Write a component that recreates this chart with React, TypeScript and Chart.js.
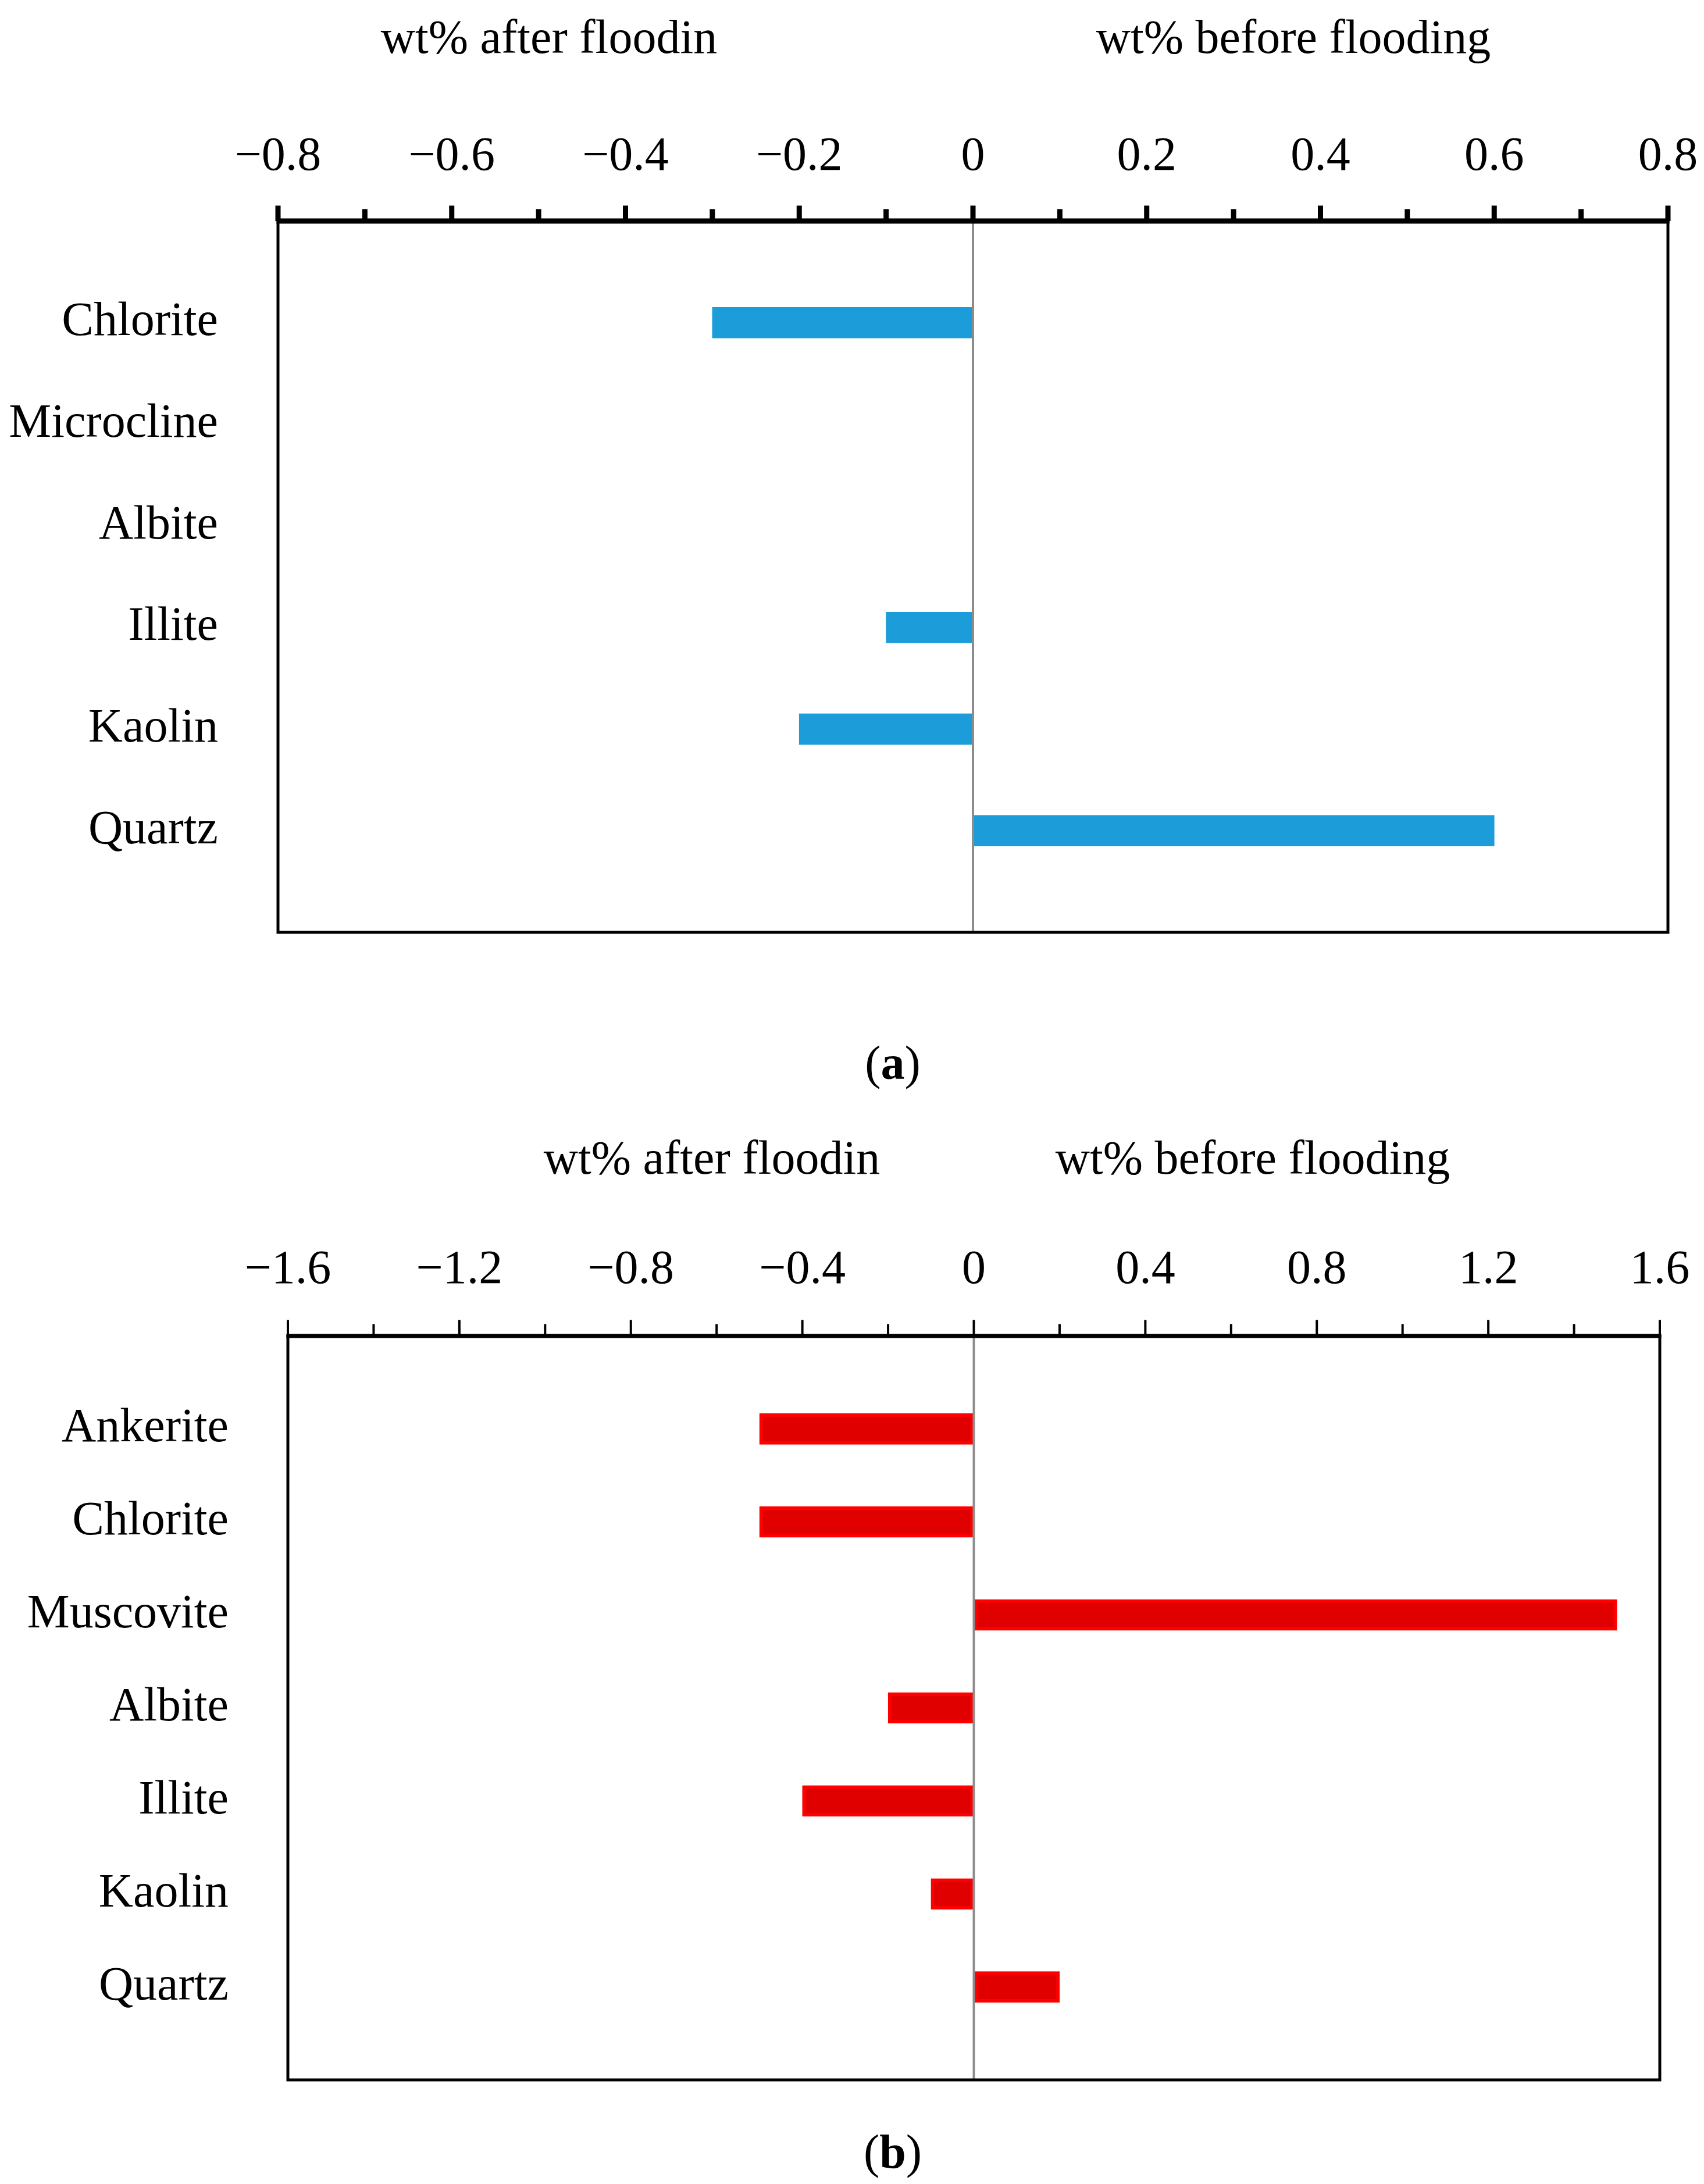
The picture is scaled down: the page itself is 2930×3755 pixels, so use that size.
import React, { useEffect, useRef } from "react";
import { Chart, registerables } from "chart.js";

Chart.register(...registerables);

// ---------- data ----------
const titleLeft = "wt% after floodin";
const titleRight = "wt% before flooding";

const categoriesA = ["Chlorite", "Microcline", "Albite", "Illite", "Kaolin", "Quartz"];
const valuesA = [-0.3, 0, 0, -0.1, -0.2, 0.6];
const axisA = { min: -0.8, max: 0.8, step: 0.1, major: 0.2 };

const categoriesB = ["Ankerite", "Chlorite", "Muscovite", "Albite", "Illite", "Kaolin", "Quartz"];
const valuesB = [-0.5, -0.5, 1.5, -0.2, -0.4, -0.1, 0.2];
const axisB = { min: -1.6, max: 1.6, step: 0.2, major: 0.4 };

const FONT = "'Liberation Serif', 'Times New Roman', serif";
const FS = 82;

function isMajor(v: number, major: number) {
  const r = v / major;
  return Math.abs(r - Math.round(r)) < 1e-6;
}

function fmt(v: number) {
  if (Math.abs(v) < 1e-9) return "0";
  return (v < 0 ? "\u2212" : "") + Math.abs(v).toFixed(1);
}

const framePlugin = {
  id: "frame",
  afterDatasetsDraw(chart: any, _args: any, opts: any) {
    const { ctx, chartArea } = chart;
    const { left, right, top, bottom } = chartArea;
    const x = chart.scales.x;
    ctx.save();
    // zero line
    const zx = x.getPixelForValue(0);
    ctx.strokeStyle = "#8c8c8c";
    ctx.lineWidth = 4;
    ctx.beginPath();
    ctx.moveTo(zx, top);
    ctx.lineTo(zx, bottom);
    ctx.stroke();
    // frame
    ctx.strokeStyle = "#000";
    ctx.lineWidth = opts.frameWidth;
    ctx.strokeRect(left, top, right - left, bottom - top);
    // thick top axis line
    ctx.lineWidth = opts.axisWidth;
    ctx.beginPath();
    ctx.moveTo(left - opts.frameWidth / 2, top);
    ctx.lineTo(right + opts.frameWidth / 2, top);
    ctx.stroke();
    // tick marks
    ctx.lineWidth = opts.tickWidth;
    x.ticks.forEach((t: any) => {
      const px = x.getPixelForValue(t.value);
      const len = isMajor(t.value, opts.major) ? opts.majorLen : opts.minorLen;
      ctx.beginPath();
      ctx.moveTo(px, top);
      ctx.lineTo(px, top - opts.axisWidth / 2 - len);
      ctx.stroke();
    });
    ctx.restore();
  },
};

type PanelProps = {
  categories: string[];
  values: number[];
  axis: { min: number; max: number; step: number; major: number };
  width: number;
  height: number;
  yWidth: number;
  xHeight: number;
  padRight: number;
  padBottom: number;
  bg: string;
  border: string;
  borderWidth: number;
  frameWidth: number;
  axisWidth: number;
  tickWidth: number;
  majorLen: number;
  minorLen: number;
  labelPad: number;
  tickPad: number;
};

function Panel(p: PanelProps) {
  const ref = useRef<HTMLCanvasElement | null>(null);
  useEffect(() => {
    if (!ref.current) return;
    const labels = ["", ...p.categories, ""];
    const data = [null, ...p.values, null];
    const chart = new Chart(ref.current, {
      type: "bar",
      data: {
        labels,
        datasets: [
          {
            data: data as any,
            backgroundColor: p.bg,
            borderColor: p.border,
            borderWidth: p.borderWidth,
            borderSkipped: false,
            barThickness: 53,
          },
        ],
      },
      plugins: [framePlugin as any],
      options: {
        indexAxis: "y",
        animation: false,
        responsive: false,
        devicePixelRatio: 1,
        layout: { padding: { left: 0, top: 0, right: p.padRight, bottom: p.padBottom } },
        plugins: {
          legend: { display: false },
          tooltip: { enabled: false },
          frame: {
            major: p.axis.major,
            frameWidth: p.frameWidth,
            axisWidth: p.axisWidth,
            tickWidth: p.tickWidth,
            majorLen: p.majorLen,
            minorLen: p.minorLen,
          },
        } as any,
        scales: {
          x: {
            type: "linear",
            position: "top",
            min: p.axis.min,
            max: p.axis.max,
            grid: { display: false, drawTicks: false },
            border: { display: false },
            ticks: {
              stepSize: p.axis.step,
              autoSkip: false,
              maxRotation: 0,
              padding: p.tickPad,
              color: "#000",
              font: { family: FONT, size: FS },
              callback: (v: any) => (isMajor(Number(v), p.axis.major) ? fmt(Number(v)) : ""),
            },
            afterFit: (s: any) => {
              s.height = p.xHeight;
              s.paddingLeft = 0;
              s.paddingRight = 0;
            },
          },
          y: {
            type: "category",
            offset: false,
            grid: { display: false, drawTicks: false },
            border: { display: false },
            ticks: {
              autoSkip: false,
              padding: p.labelPad,
              color: "#000",
              font: { family: FONT, size: FS },
            },
            afterFit: (s: any) => {
              s.width = p.yWidth;
              s.paddingTop = 0;
              s.paddingBottom = 0;
            },
          },
        },
      } as any,
    });
    return () => chart.destroy();
  }, []);
  return (
    <canvas
      ref={ref}
      width={p.width}
      height={p.height}
      style={{ width: p.width, height: p.height, display: "block" }}
    />
  );
}

const textStyle: React.CSSProperties = {
  position: "absolute",
  fontFamily: FONT,
  fontSize: FS,
  lineHeight: 1,
  whiteSpace: "nowrap",
  color: "#000",
  transform: "translateX(-50%)",
};

export default function App() {
  return (
    <div
      style={{
        position: "absolute",
        left: 0,
        top: 0,
        width: 2930,
        height: 3755,
        background: "#fff",
        overflow: "hidden",
      }}
    >
      <div style={{ ...textStyle, left: 944, top: 23 }}>{titleLeft}</div>
      <div style={{ ...textStyle, left: 2224, top: 23 }}>{titleRight}</div>
      <div style={{ position: "absolute", left: 0, top: 0 }}>
        <Panel
          categories={categoriesA}
          values={valuesA}
          axis={axisA}
          width={2930}
          height={1700}
          yWidth={478}
          xHeight={380}
          padRight={62}
          padBottom={97}
          bg="#1c9cd8"
          border="#1c9cd8"
          borderWidth={0}
          frameWidth={5}
          axisWidth={9}
          tickWidth={9}
          majorLen={22}
          minorLen={16}
          labelPad={103}
          tickPad={60}
        />
      </div>
      <div style={{ ...textStyle, left: 1535, top: 1787 }}>
        (<b>a</b>)
      </div>

      <div style={{ ...textStyle, left: 1224, top: 1950 }}>{titleLeft}</div>
      <div style={{ ...textStyle, left: 2154, top: 1950 }}>{titleRight}</div>
      <div style={{ position: "absolute", left: 0, top: 1900 }}>
        <Panel
          categories={categoriesB}
          values={valuesB}
          axis={axisB}
          width={2930}
          height={1800}
          yWidth={495}
          xHeight={397}
          padRight={76}
          padBottom={124}
          bg="#e00000"
          border="#ff0000"
          borderWidth={6}
          frameWidth={5}
          axisWidth={7}
          tickWidth={4}
          majorLen={24}
          minorLen={17}
          labelPad={102}
          tickPad={63}
        />
      </div>
      <div style={{ ...textStyle, left: 1535, top: 3659 }}>
        (<b>b</b>)
      </div>
    </div>
  );
}
